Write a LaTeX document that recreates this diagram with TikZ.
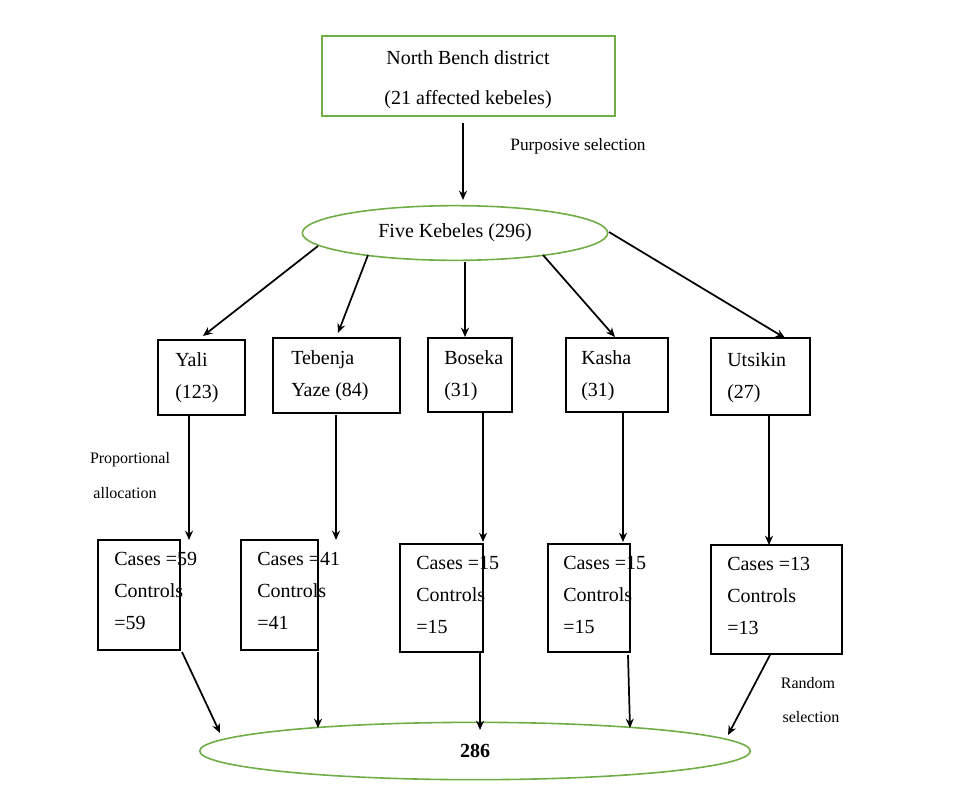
\documentclass[tikz,border=0pt]{standalone}
\usepackage{fontspec}
\setmainfont{Liberation Serif}
\usetikzlibrary{shapes.geometric,arrows.meta}
\definecolor{gr}{RGB}{112,173,71}
\begin{document}
\begin{tikzpicture}[x=0.75pt,y=-0.75pt,
 arr/.style={-{Stealth[length=7pt,width=6pt]},line width=1.3pt},
 box/.style={draw,line width=1pt},
 txt/.style={font=\fontsize{15}{24}\selectfont,align=left,anchor=north west,inner sep=0},
 sm/.style={font=\fontsize{12}{14}\selectfont}]
\useasboundingbox (0,0) rectangle (973,807);
\draw[gr,line width=1.2pt] (322,36) rectangle (615,116);
\node[font=\fontsize{15}{18}\selectfont] (top) at (468,58) {North Bench district};
\node[font=\fontsize{15}{18}\selectfont] (top2) at (468,100) {(21 affected kebeles)};
\coordinate (t) at (463,123);
\node[draw=gr,line width=1.2pt,ellipse,minimum width=229pt,minimum height=41pt,font=\fontsize{15}{18}\selectfont] (five) at (455,233) {Five Kebeles (296)};
\draw[arr] (t) -- (463,200);
\node[sm,font=\fontsize{13}{15}\selectfont] (ps) at (578,146) {Purposive selection};
% row boxes
\draw[box] (158,340) rectangle (245,415);
\node[txt] (y) at (175,352) {Yali\\(123)};
\draw[box] (273,338) rectangle (400,413);
\node[txt] (tb) at (291,350) {Tebenja\\Yaze (84)};
\draw[box] (428,338) rectangle (512,412);
\node[txt] (bo) at (444,350) {Boseka\\(31)};
\draw[box] (566,338) rectangle (668,412);
\node[txt] (ka) at (581,350) {Kasha\\(31)};
\draw[box] (711,338) rectangle (810,415);
\node[txt] (ut) at (727,352) {Utsikin\\(27)};
\draw[arr] (318,246) -- (203,336);
\draw[arr] (368,255) -- (338,333);
\draw[arr] (465,262) -- (465,337);
\draw[arr] (543,255) -- (615,337);
\draw[arr] (609,232) -- (785,338);
\node[sm] (pa1) at (130,460) {Proportional};
\node[sm] (pa2) at (125,493) {allocation};
\draw[arr] (189,415) -- (189,540);
\draw[arr] (336,415) -- (336,540);
\draw[arr] (483,413) -- (483,542);
\draw[arr] (623,413) -- (623,542);
\draw[arr] (769,415) -- (769,545);
% bottom boxes
\draw[box] (98,540) rectangle (180,650);
\node[txt] (c1) at (114,552) {Cases =59\\Controls\\=59};
\draw[box] (241,540) rectangle (318,650);
\node[txt] (c2) at (257,552) {Cases =41\\Controls\\=41};
\draw[box] (400,544) rectangle (483,652);
\node[txt] (c3) at (416,556) {Cases =15\\Controls\\=15};
\draw[box] (548,544) rectangle (630,652);
\node[txt] (c4) at (563,556) {Cases =15\\Controls\\=15};
\draw[box] (711,545) rectangle (842,654);
\node[txt] (c5) at (727,557) {Cases =13\\Controls\\=13};
\node[draw=gr,line width=1.2pt,ellipse,minimum width=413pt,minimum height=43pt,font=\fontsize{15}{18}\selectfont\bfseries] (tot) at (475,751) {286};
\draw[arr] (182,652) -- (220,733);
\draw[arr] (318,652) -- (318,728);
\draw[arr] (480,652) -- (480,730);
\draw[arr] (628,655) -- (630,728);
\draw[arr] (770,655) -- (728,735);
\node[sm] (r1) at (808,683) {Random};
\node[sm] (r2) at (811,717) {selection};
\end{tikzpicture}
\end{document}
